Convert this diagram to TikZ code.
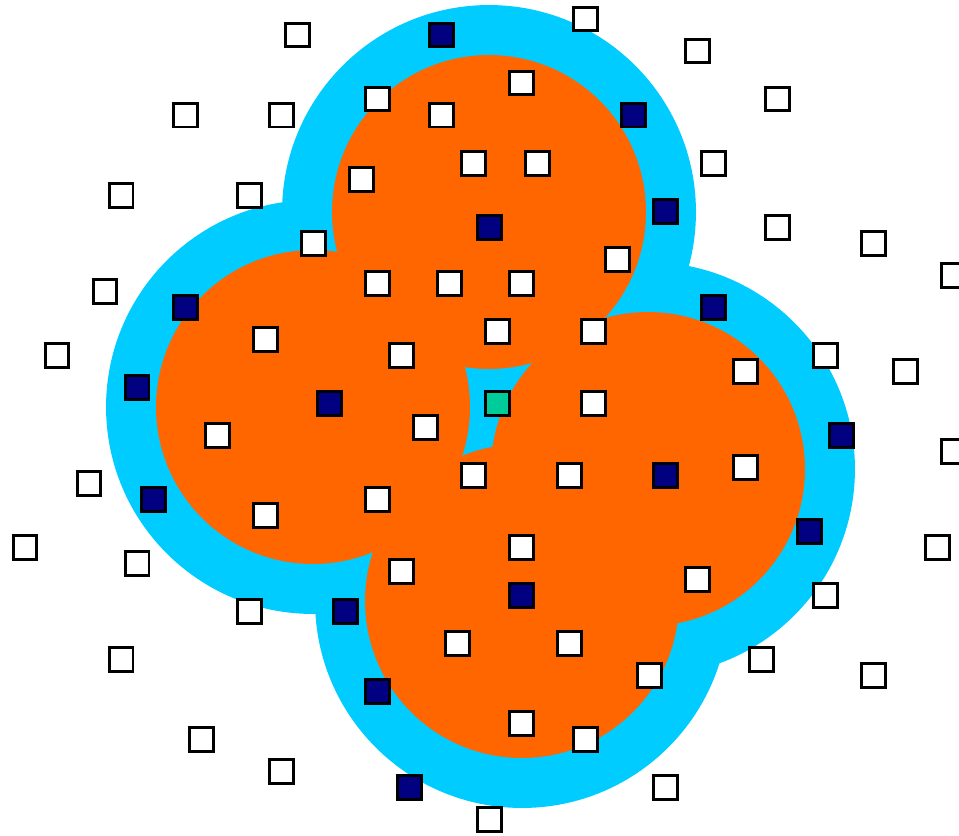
\documentclass[tikz,border=0pt]{standalone}
\usetikzlibrary{positioning}
\definecolor{halo}{HTML}{00CCFF}
\definecolor{disk}{HTML}{FF6600}
\definecolor{navy}{HTML}{000080}
\definecolor{seed}{HTML}{00CC99}

\begin{document}
\begin{tikzpicture}[x=0.02cm,y=-0.02cm,
  pt/.style={draw=black,fill=white,line width=0.06cm,minimum size=0.48cm,inner sep=0pt,outer sep=0pt},
  hit/.style={pt,fill=navy},
  query/.style={pt,fill=seed}]
  \useasboundingbox (0,0) rectangle (959,835);
  % halos first, then the disks on top
  \foreach \cx/\cy in {489/212, 313/407, 648/469, 522/601}
    \fill[halo] (\cx,\cy) circle[radius=4.14cm];
  \foreach \cx/\cy in {489/212, 313/407, 648/469, 522/601}
    \fill[disk] (\cx,\cy) circle[radius=3.14cm];
  % plain points
  \foreach \x/\y [count=\n] in {297/35, 585/19, 697/51, 377/99, 521/83, 777/99, 185/115, 281/115,
      441/115, 473/163, 537/163, 713/163, 361/179, 121/195, 249/195, 777/227, 873/243, 313/243,
      617/259, 953/275, 105/291, 377/283, 449/283, 521/283, 265/339, 497/331, 593/331, 57/355,
      401/355, 825/355, 745/371, 905/371, 593/403, 217/435, 425/427, 953/451, 473/475, 569/475,
      745/467, 89/483, 377/499, 265/515, 25/547, 521/547, 937/547, 137/563, 401/571, 697/579,
      825/595, 249/611, 457/643, 569/643, 121/659, 761/659, 649/675, 873/675, 521/723, 201/739,
      585/739, 281/771, 665/787, 489/819} {
    \node[pt] (p\n) at (\x,\y) {};
  }
  % points on the rim
  \foreach \x/\y [count=\n] in {441/35, 633/115, 489/227, 665/211, 185/307, 713/307, 137/387,
      329/403, 841/435, 665/475, 153/499, 809/531, 521/595, 345/611, 377/691, 409/787} {
    \node[hit] (h\n) at (\x,\y) {};
  }
  \node[query] (q) at (497,403) {};
\end{tikzpicture}
\end{document}
